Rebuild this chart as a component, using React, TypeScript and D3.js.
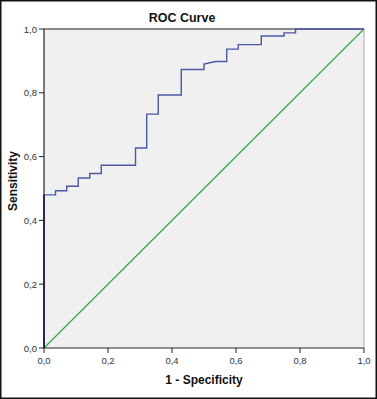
import React from "react";
import * as d3 from "d3";

const fpr = [0, 0, 0.036, 0.036, 0.071, 0.071, 0.107, 0.107, 0.143, 0.143, 0.179, 0.179, 0.286, 0.286, 0.321, 0.321, 0.357, 0.357, 0.429, 0.429, 0.5, 0.5, 0.536, 0.571, 0.571, 0.607, 0.607, 0.679, 0.679, 0.75, 0.75, 0.786, 0.786, 1.0];
const tpr = [0, 0.48, 0.48, 0.493, 0.493, 0.507, 0.507, 0.533, 0.533, 0.547, 0.547, 0.573, 0.573, 0.627, 0.627, 0.733, 0.733, 0.793, 0.793, 0.873, 0.873, 0.89, 0.898, 0.898, 0.937, 0.937, 0.951, 0.951, 0.978, 0.978, 0.988, 0.988, 1.0, 1.0];
const refLine = [0, 1];
const tickValues = [0, 0.2, 0.4, 0.6, 0.8, 1.0];
const title = "ROC Curve";
const xLabel = "1 - Specificity";
const yLabel = "Sensitivity";

const W = 377;
const H = 399;
const L = 44, R = 364, T = 29, B = 348;

export default function App() {
  const x = d3.scaleLinear().domain([0, 1]).range([L, R]);
  const y = d3.scaleLinear().domain([0, 1]).range([B, T]);
  const fmt = (v: number) => v.toFixed(1).replace(".", ",");
  const pts: [number, number][] = fpr.map((f, i) => [f, tpr[i]]);
  const line = d3.line<[number, number]>().x((d) => x(d[0])).y((d) => y(d[1]));
  const font = "'Liberation Sans', Arial, sans-serif";
  return (
    <svg width={W} height={H} style={{ position: "absolute", left: 0, top: 0, background: "#fff" }}>
      <rect x={0.75} y={0.75} width={W - 1.5} height={H - 1.5} fill="#fff" stroke="#111" strokeWidth={1.5} />
      <rect x={L} y={T} width={R - L} height={B - T} fill="#f0f0f0" />
      <line x1={L} x2={R} y1={T} y2={T} stroke="#666" strokeWidth={1.5} />
      <line x1={R} x2={R} y1={T} y2={B} stroke="#aaa" strokeWidth={1} />
      <path d={line(refLine.map((v) => [v, v]) as [number, number][]) || ""} fill="none" stroke="#2eaa4a" strokeWidth={1.2} />
      <path d={line(pts) || ""} fill="none" stroke="#4a58a6" strokeWidth={1.4} />
      <line x1={x(0)} x2={x(0)} y1={y(0)} y2={y(0.48)} stroke="#1c2270" strokeWidth={1.6} />
      <line x1={L} x2={L} y1={T} y2={B} stroke="#222" strokeWidth={1.2} />
      <line x1={L} x2={R} y1={B} y2={B} stroke="#222" strokeWidth={1.2} />
      {tickValues.map((t) => (
        <g key={"y" + t}>
          <line x1={L - 5} x2={L} y1={y(t)} y2={y(t)} stroke="#222" strokeWidth={1} />
          <text x={L - 7} y={y(t) + 3.5} textAnchor="end" fontSize={9.5} fontFamily={font} fill="#333">
            {fmt(t)}
          </text>
        </g>
      ))}
      {tickValues.map((t) => (
        <g key={"x" + t}>
          <line x1={x(t)} x2={x(t)} y1={B} y2={B + 5} stroke="#222" strokeWidth={1} />
          <text x={x(t)} y={B + 16} textAnchor="middle" fontSize={9.5} fontFamily={font} fill="#333">
            {fmt(t)}
          </text>
        </g>
      ))}
      <text x={182} y={22} textAnchor="middle" fontSize={12.5} fontWeight="bold" fontFamily={font} fill="#111">
        {title}
      </text>
      <text x={204} y={384} textAnchor="middle" fontSize={12} fontWeight="bold" fontFamily={font} fill="#111">
        {xLabel}
      </text>
      <text transform={`translate(17,181) rotate(-90)`} textAnchor="middle" fontSize={12} fontWeight="bold" fontFamily={font} fill="#111">
        {yLabel}
      </text>
    </svg>
  );
}
